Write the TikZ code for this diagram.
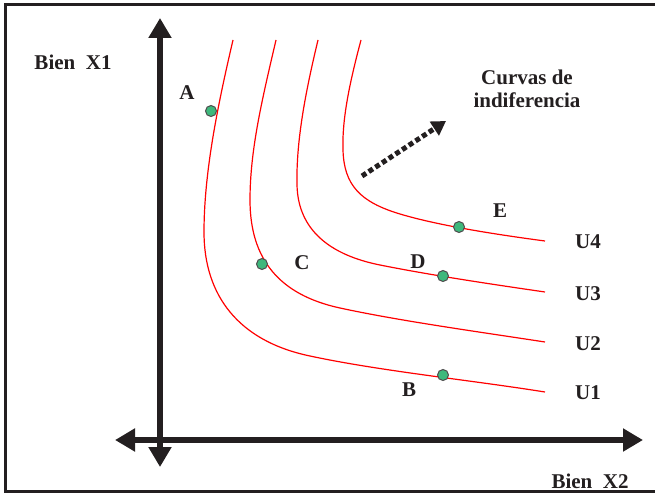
\documentclass[tikz,border=0pt]{standalone}
\usepackage{fontspec}
\setmainfont{Liberation Serif}
\usetikzlibrary{arrows.meta}
\definecolor{ink}{RGB}{35,31,32}
\definecolor{dotgreen}{RGB}{62,184,124}
\tikzset{
  lbl/.style={font=\fontsize{21}{25}\selectfont\bfseries, text=ink, inner sep=0pt},
  axis/.style={line width=6pt, draw=ink, {Triangle[width=22pt,length=20pt]}-{Triangle[width=22pt,length=20pt]}},
  curve/.style={draw=red, line width=1.2pt},
  pt/.style={circle, fill=dotgreen, draw=ink!80, line width=1pt, minimum size=11pt, inner sep=0pt},
}
\begin{document}
\begin{tikzpicture}[x=1pt,y=-1pt]
\useasboundingbox (0,0) rectangle (655,495);
% frame
\draw[ink, line width=3pt] (655,5) -- (5,5) -- (5,491) -- (655,491);
% axes
\coordinate (ytop) at (160,18);
\coordinate (ybot) at (160,467);
\coordinate (xl) at (115,440);
\coordinate (xr) at (643,440);
\draw[axis] (ybot) -- (ytop);
\draw[axis] (xl) -- (xr);
% curves
\draw[curve] (233,40) .. controls (219,100) and (204,170) .. (204,232)
  .. controls (204,295) and (238,341) .. (310,356)
  .. controls (380,371) and (470,380) .. (545,392);
\draw[curve] (276,40) .. controls (262,100) and (250,150) .. (250,200)
  .. controls (250,260) and (280,295) .. (340,308)
  .. controls (400,321) and (480,332) .. (545,342);
\draw[curve] (318,40) .. controls (306,90) and (296,140) .. (297,185)
  .. controls (298,230) and (330,255) .. (380,265)
  .. controls (430,275) and (490,284) .. (545,292);
\draw[curve] (361,40) .. controls (349,85) and (342,120) .. (343,150)
  .. controls (344,185) and (360,202) .. (400,214)
  .. controls (440,226) and (500,235) .. (545,241);
% dotted arrow
\coordinate (da) at (362,176);
\coordinate (db) at (446,121);
\draw[ink, line width=5pt, dash pattern=on 5pt off 3pt, -{Triangle[width=16pt,length=14pt]}] (da) -- (db);
% points
\node[pt] (pA) at (211,111) {};
\node[pt] (pC) at (262,264) {};
\node[pt] (pD) at (443,276) {};
\node[pt] (pE) at (459,227) {};
\node[pt] (pB) at (443,375) {};
% labels
\node[lbl] (lA) at (187,93) {A};
\node[lbl] (lC) at (302,263) {C};
\node[lbl] (lD) at (418,262) {D};
\node[lbl] (lE) at (500,211) {E};
\node[lbl] (lB) at (409,390) {B};
\node[lbl] (u4) at (588,242) {U4};
\node[lbl] (u3) at (588,294) {U3};
\node[lbl] (u2) at (588,344) {U2};
\node[lbl] (u1) at (588,393) {U1};
\node[lbl] (bx1) at (73,62) {Bien\ \ X1};
\node[lbl] (bx2) at (590,481) {Bien\ \ X2};
\node[lbl, align=center] (cur) at (527,89) {Curvas de\\[-2pt]indiferencia};
\end{tikzpicture}
\end{document}
